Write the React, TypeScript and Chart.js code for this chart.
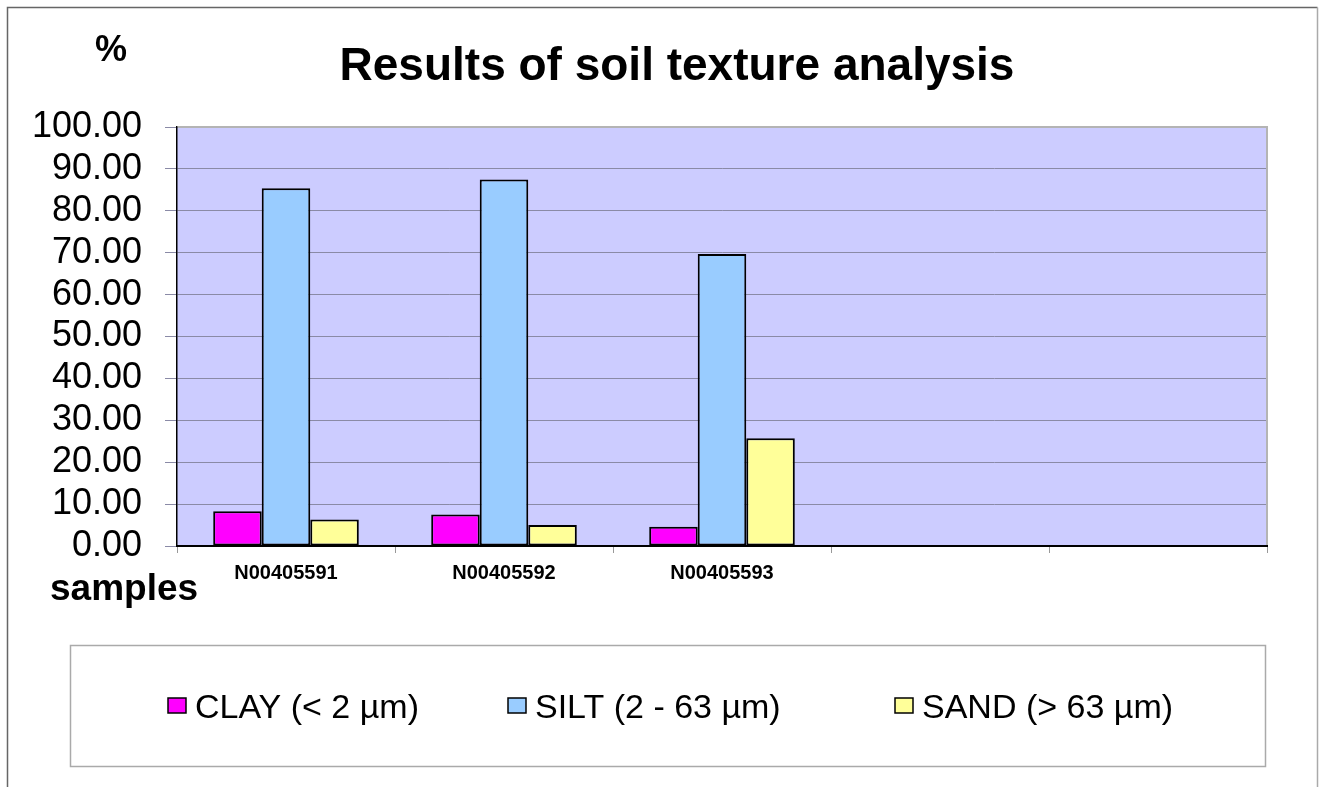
import React, { useEffect, useRef } from 'react';
import { Chart, registerables } from 'chart.js';

Chart.register(...registerables);

// ---- Data ----
const categories = ['N00405591', 'N00405592', 'N00405593', '', ''];
const clayValues = [8.3, 7.5, 4.6, null, null];
const siltValues = [85.4, 87.5, 69.7, null, null];
const sandValues = [6.3, 5.0, 25.7, null, null];
const seriesLabels = ['CLAY (< 2 µm)', 'SILT (2 - 63 µm)', 'SAND (> 63 µm)'];
const seriesColors = ['#FF00FF', '#99CCFF', '#FFFF99'];
const yMin = 0;
const yMax = 100;
const yStep = 10;
const titleText = 'Results of soil texture analysis';
const yAxisTitle = '%';
const xAxisTitle = 'samples';

const FONT = '"Liberation Sans", Arial, sans-serif';
const W = 1322;
const H = 787;

const decorPlugin = {
  id: 'decor',
  beforeDraw(chart: any) {
    const { ctx, chartArea } = chart;
    ctx.save();
    ctx.fillStyle = '#FFFFFF';
    ctx.fillRect(0, 0, chart.width, chart.height);
    ctx.fillStyle = '#CCCCFF';
    ctx.fillRect(chartArea.left, chartArea.top, chartArea.right - chartArea.left, chartArea.bottom - chartArea.top);
    ctx.restore();
  },
  afterDraw(chart: any) {
    const { ctx, chartArea } = chart;
    ctx.save();
    // plot area top/right border
    ctx.strokeStyle = '#B4B4B4';
    ctx.lineWidth = 2;
    ctx.beginPath();
    ctx.moveTo(chartArea.left + 1, chartArea.top);
    ctx.lineTo(chartArea.right, chartArea.top);
    ctx.lineTo(chartArea.right, chartArea.bottom - 1);
    ctx.stroke();

    // outer frame
    ctx.lineWidth = 1.5;
    ctx.strokeStyle = '#666666';
    ctx.beginPath();
    ctx.moveTo(7.5, H);
    ctx.lineTo(7.5, 7.5);
    ctx.lineTo(1317.5, 7.5);
    ctx.stroke();
    ctx.strokeStyle = '#AAAAAA';
    ctx.beginPath();
    ctx.moveTo(1317.5, 7.5);
    ctx.lineTo(1317.5, H);
    ctx.stroke();

    // title
    ctx.fillStyle = '#000';
    ctx.textBaseline = 'alphabetic';
    ctx.textAlign = 'center';
    ctx.font = `bold 46px ${FONT}`;
    ctx.fillText(titleText, 677, 80);

    // axis titles
    ctx.font = `bold 36px ${FONT}`;
    ctx.fillText(yAxisTitle, 111, 61);
    ctx.textAlign = 'left';
    ctx.font = `bold 37px ${FONT}`;
    ctx.fillText(xAxisTitle, 50, 600);

    // legend box
    ctx.strokeStyle = '#AAAAAA';
    ctx.lineWidth = 1.5;
    ctx.strokeRect(70.5, 645.5, 1195, 121);

    const itemX = [168, 508, 895];
    ctx.font = `34px ${FONT}`;
    chart.data.datasets.forEach((ds: any, i: number) => {
      const x = itemX[i];
      ctx.fillStyle = ds.backgroundColor;
      ctx.fillRect(x, 698, 18, 15);
      ctx.strokeStyle = '#000';
      ctx.lineWidth = 1.5;
      ctx.strokeRect(x, 698, 18, 15);
      ctx.fillStyle = '#000';
      ctx.fillText(ds.label, x + 27, 718);
    });
    ctx.restore();
  },
};

export default function App() {
  const ref = useRef<HTMLCanvasElement | null>(null);

  useEffect(() => {
    if (!ref.current) return;
    const datasets = [clayValues, siltValues, sandValues].map((vals, i) => ({
      label: seriesLabels[i],
      data: vals,
      backgroundColor: seriesColors[i],
      borderColor: '#000000',
      borderWidth: 2,
      borderSkipped: false,
      categoryPercentage: 0.668,
      barPercentage: 1.0,
    }));
    const chart = new Chart(ref.current, {
      type: 'bar',
      data: { labels: categories, datasets: datasets as any },
      options: {
        responsive: false,
        animation: false,
        devicePixelRatio: 1,
        layout: { padding: { left: 0, top: 127, right: 55, bottom: 0 } },
        plugins: {
          legend: { display: false },
          title: { display: false },
          tooltip: { enabled: false },
        },
        scales: {
          x: {
            afterFit: (scale: any) => { scale.height = 241; },
            grid: {
              display: true,
              drawOnChartArea: false,
              drawTicks: true,
              tickLength: 7,
              color: '#999999',
              offset: true,
            },
            border: { display: true, color: '#000000', width: 2 },
            ticks: {
              color: '#000000',
              font: { family: FONT, size: 20, weight: 'bold' },
              padding: 8,
              maxRotation: 0,
              autoSkip: false,
            },
          },
          y: {
            min: yMin,
            max: yMax,
            afterFit: (scale: any) => { scale.width = 177; },
            grid: {
              color: '#8A8AA6',
              lineWidth: 1,
              tickLength: 12,
              drawTicks: true,
            },
            border: { display: true, color: '#000000', width: 1.5 },
            ticks: {
              stepSize: yStep,
              autoSkip: false,
              color: '#000000',
              font: { family: FONT, size: 36 },
              padding: 23,
              callback: (v: any) => Number(v).toFixed(2),
            },
          },
        },
      },
      plugins: [decorPlugin],
    });
    return () => chart.destroy();
  }, []);

  return (
    <div style={{ position: 'fixed', left: 0, top: 0, width: W, height: H, background: '#fff' }}>
      <canvas ref={ref} width={W} height={H} style={{ width: W, height: H, display: 'block' }} />
    </div>
  );
}
